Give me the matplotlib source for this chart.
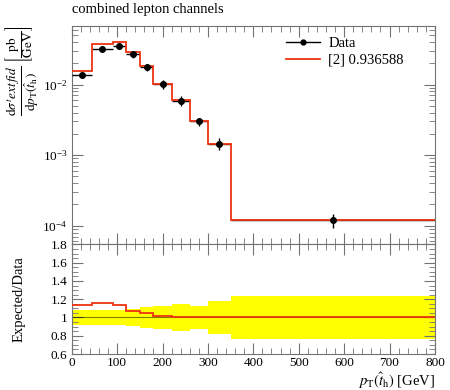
import numpy as np
import matplotlib
matplotlib.use('Agg')
import matplotlib.pyplot as plt
from matplotlib.lines import Line2D
from matplotlib.ticker import MultipleLocator, FuncFormatter, LogLocator, NullFormatter

# bin edges in pT [GeV]
edges = [0, 45, 90, 120, 150, 180, 220, 260, 300, 350, 800]
# measured cross section (pb/GeV)
data_y = [0.01386, 0.0321, 0.0349, 0.0267, 0.0178, 0.0101, 0.00593, 0.00302, 0.00146, 0.000120]
# relative data uncertainty (band in the ratio panel)
data_rel_err = [0.085, 0.082, 0.085, 0.095, 0.115, 0.13, 0.15, 0.13, 0.18, 0.235]
# expected (MC) cross section
mc_y = [0.0158, 0.0373, 0.0398, 0.0285, 0.0186, 0.0103, 0.00597, 0.00302, 0.00146, 0.000120]

title = 'combined lepton channels'
mc_label = '[2] 0.936588'

plt.rcParams['font.family'] = ['Liberation Serif', 'DejaVu Serif']
plt.rcParams['mathtext.fontset'] = 'stix'

edges = np.array(edges, dtype=float)
data_y = np.array(data_y)
data_rel_err = np.array(data_rel_err)
mc_y = np.array(mc_y)
centers = 0.5 * (edges[:-1] + edges[1:])
half_w = 0.5 * np.diff(edges)

frame_col = '0.45'
red = '#EE3311'

fig = plt.figure(figsize=(4.5, 3.9), dpi=100)
ax = fig.add_axes([0.1593, 0.3731, 0.8073, 0.5602])
rax = fig.add_axes([0.1593, 0.0923, 0.8073, 0.2808], sharex=ax)

# ---- main panel
ax.errorbar(centers, data_y, xerr=half_w, yerr=data_y * data_rel_err,
            fmt='none', ecolor='black', lw=1.0, capsize=0, zorder=3)
ax.stairs(mc_y, edges, baseline=None, color=red, lw=1.3, zorder=4)
ax.plot(centers, data_y, 'o', color='black', ms=4, zorder=5)
ax.set_yscale('log')
ax.set_ylim(5.42e-5, 0.0675)
ax.set_xlim(0, 800)
ax.yaxis.set_major_locator(LogLocator(base=10))
ax.yaxis.set_minor_locator(LogLocator(base=10, subs=np.arange(2, 10)))
ax.yaxis.set_minor_formatter(NullFormatter())
ax.tick_params(labelbottom=False)
ax.set_ylabel(r'$\dfrac{\mathrm{d}\sigma^t ext\,fid}{\mathrm{d}p_\mathrm{T}(\hat{t}_\mathrm{h})}$ $\left[\dfrac{\mathrm{pb}}{\mathrm{GeV}}\right]$',
              fontsize=9.5, loc='top')
ax.text(0.0, 1.045, title, transform=ax.transAxes, fontsize=10.5, ha='left', va='bottom')

handles = [Line2D([], [], color='black', lw=1.0, marker='o', ms=3.5),
           Line2D([], [], color=red, lw=1.3)]
ax.legend(handles, ['Data', mc_label], loc='upper left', bbox_to_anchor=(0.59, 0.95),
          frameon=False, fontsize=10.5, handlelength=2.3, handletextpad=0.6,
          borderaxespad=0.0, borderpad=0.0, labelspacing=0.25)

# ---- ratio panel
lo = np.concatenate([1 - data_rel_err, [1 - data_rel_err[-1]]])
hi = np.concatenate([1 + data_rel_err, [1 + data_rel_err[-1]]])
rax.fill_between(edges, lo, hi, step='post', color='#FFFF00', lw=0, zorder=1)
rax.axhline(1.0, color='black', lw=0.8, alpha=0.5, zorder=2)
rax.stairs(mc_y / data_y, edges, baseline=None, color=red, lw=1.3, zorder=3)
rax.set_ylim(0.6, 1.8)
rax.yaxis.set_major_locator(MultipleLocator(0.2))
rax.yaxis.set_minor_locator(MultipleLocator(0.05))
rax.yaxis.set_major_formatter(FuncFormatter(lambda v, p: '%g' % round(v, 2)))
rax.xaxis.set_major_locator(MultipleLocator(100))
rax.xaxis.set_minor_locator(MultipleLocator(20))
rax.set_ylabel('Expected/Data', fontsize=10.5)
fig.text(435 / 450, 1 - 381 / 390, r'$p_\mathrm{T}(\hat{t}_\mathrm{h})$ [GeV]',
         fontsize=10.5, ha='right', va='center')

for a in (ax, rax):
    for s in a.spines.values():
        s.set_color(frame_col)
    a.tick_params(which='both', direction='in', colors=frame_col, labelcolor='black',
                  labelsize=9.5, top=True, right=True, pad=3)
    a.tick_params(which='major', length=8)
    a.tick_params(which='minor', length=4)
rax.tick_params(axis='x', pad=2)

ax.yaxis.set_label_coords(-0.085, 1.0)
rax.yaxis.set_label_coords(-0.128, 0.5)

fig.savefig('out.png', dpi=100)
